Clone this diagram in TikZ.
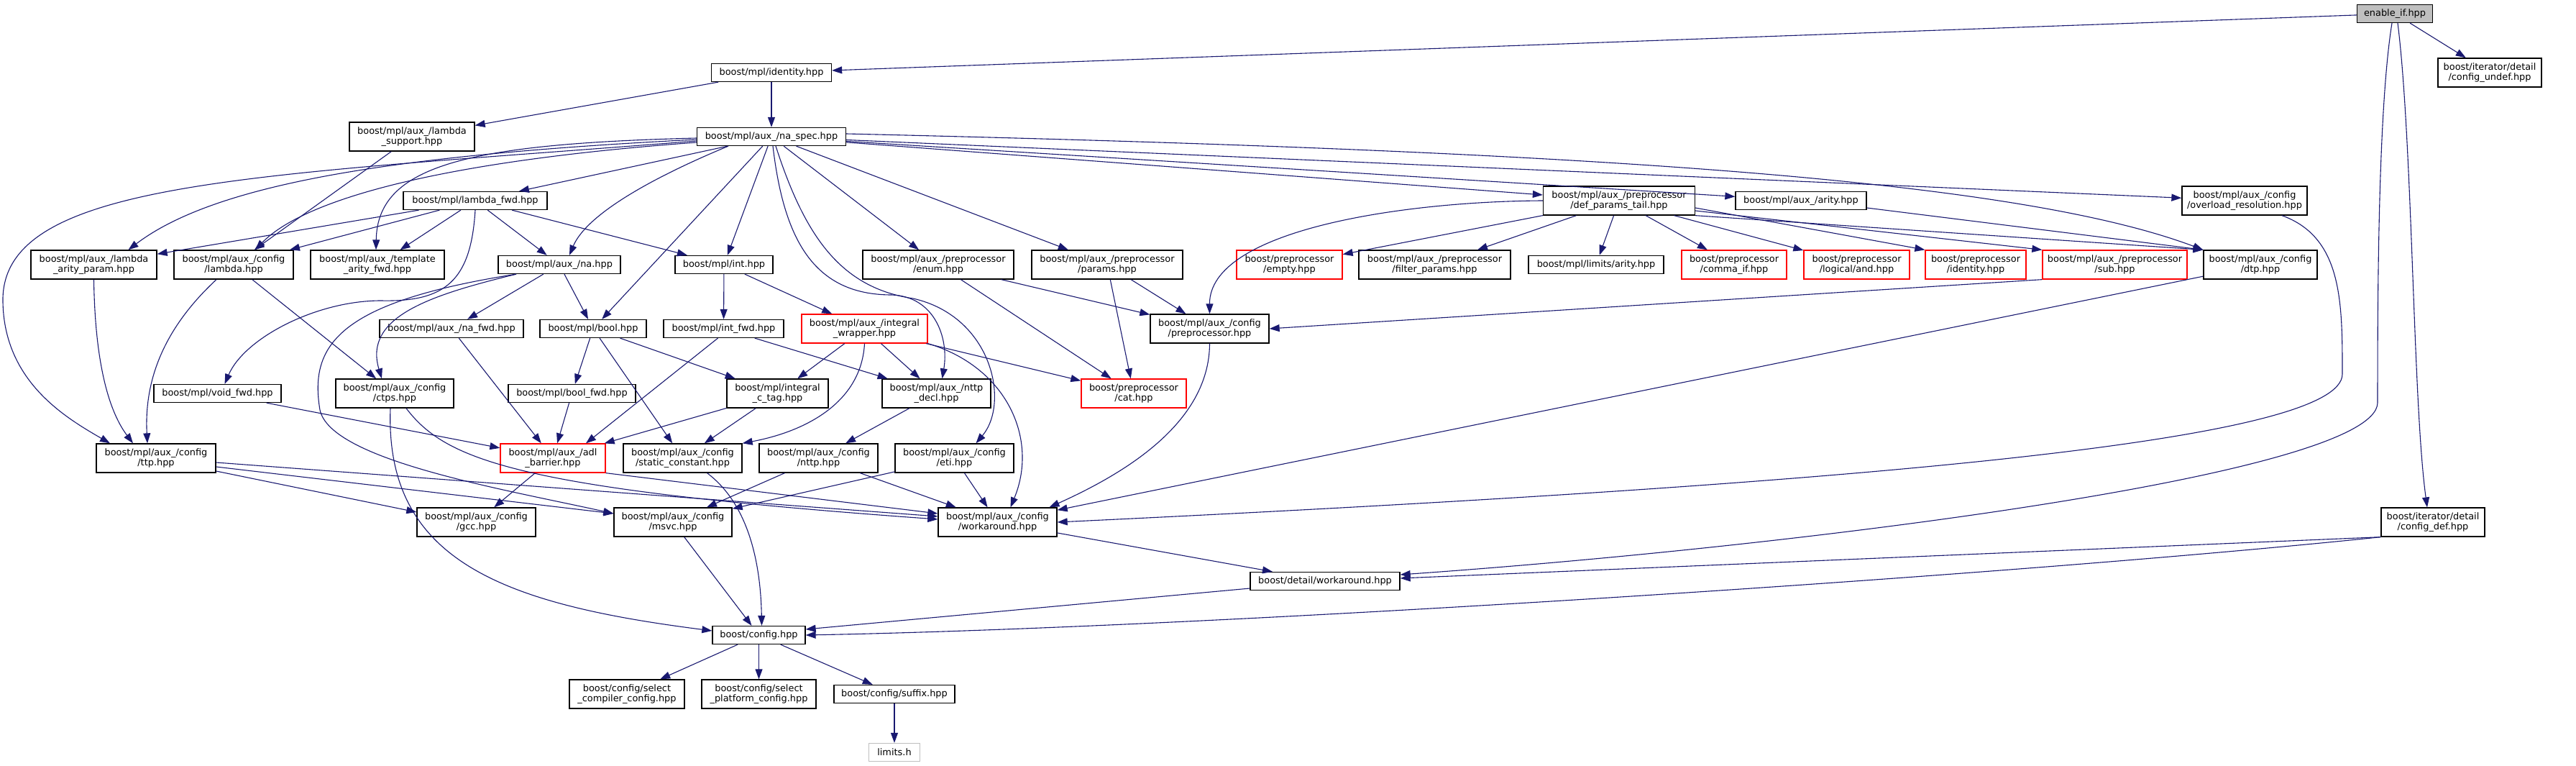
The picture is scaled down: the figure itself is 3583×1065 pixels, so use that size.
\documentclass[tikz,border=0pt]{standalone}
\usepackage{fontspec}
\usetikzlibrary{positioning,arrows.meta}
\newfontfamily\dotfont{DejaVu Sans}
\definecolor{midnight}{HTML}{191970}
\definecolor{grey75}{HTML}{BFBFBF}

\begin{document}
\begin{tikzpicture}[x=0.5pt, y=-0.5pt,
    header/.style={draw=black, fill=white, line width=0.65pt, rectangle, inner sep=0pt,
      minimum height=12.5pt, align=center, font=\dotfont\fontsize{6.45}{7.2}\selectfont},
    dbl/.style={minimum height=20pt},
    partial/.style={header, draw=red},
    syshdr/.style={header, draw=grey75},
    dep/.style={-{Triangle[length=7pt,width=5pt]}, draw=midnight, line width=0.55pt}]
    \useasboundingbox (0,0) rectangle (3583,1065);

    % Nodes
    \node (enableif) [header, fill=grey75, minimum width=52.5pt] at (3331,19) {enable\_if.hpp};

    \node (identity) [header, minimum width=83.5pt] at (1073,101) {boost/mpl/identity.hpp};
    \node (cfgundef) [header, dbl, minimum width=72pt, right of=identity, node distance=1195pt] {boost/iterator/detail\\/config\_undef.hpp};

    \node (lamsupport) [header, dbl, minimum width=87pt] at (573,190) {boost/mpl/aux\_/lambda\\\_support.hpp};
    \node (naspec) [header, minimum width=103.5pt, right of=lamsupport, node distance=250pt] {boost/mpl/aux\_/na\_spec.hpp};

    \node (lamfwd) [header, minimum width=100pt] at (661,279) {boost/mpl/lambda\_fwd.hpp};
    \node (defparams) [header, dbl, minimum width=105.5pt, right of=lamfwd, node distance=795.5pt] {boost/mpl/aux\_/preprocessor\\/def\_params\_tail.hpp};
    \node (arity) [header, minimum width=91pt, right of=defparams, node distance=126.5pt] {boost/mpl/aux\_/arity.hpp};
    \node (overload) [header, dbl, minimum width=87pt, right of=arity, node distance=308.5pt] {boost/mpl/aux\_/config\\/overload\_resolution.hpp};

    \node (lamarity) [header, dbl, minimum width=87.5pt] at (130.5,368) {boost/mpl/aux\_/lambda\\\_arity\_param.hpp};
    \node (cfglambda) [header, dbl, minimum width=83pt, right of=lamarity, node distance=97.25pt] {boost/mpl/aux\_/config\\/lambda.hpp};
    \node (tplarity) [header, dbl, minimum width=93pt, right of=cfglambda, node distance=100pt] {boost/mpl/aux\_/template\\\_arity\_fwd.hpp};
    \node (na) [header, minimum width=85pt, right of=tplarity, node distance=126.5pt] {boost/mpl/aux\_/na.hpp};
    \node (int) [header, minimum width=68pt, right of=na, node distance=114.5pt] {boost/mpl/int.hpp};
    \node (ppenum) [header, dbl, minimum width=105pt, right of=int, node distance=149pt] {boost/mpl/aux\_/preprocessor\\/enum.hpp};
    \node (ppparams) [header, dbl, minimum width=105pt, right of=ppenum, node distance=117.5pt] {boost/mpl/aux\_/preprocessor\\/params.hpp};
    \node (empty) [partial, dbl, minimum width=73.5pt, right of=ppparams, node distance=126.75pt] {boost/preprocessor\\/empty.hpp};
    \node (filter) [header, dbl, minimum width=105.5pt, right of=empty, node distance=101pt] {boost/mpl/aux\_/preprocessor\\/filter\_params.hpp};
    \node (limarity) [header, minimum width=94pt, right of=filter, node distance=112.25pt] {boost/mpl/limits/arity.hpp};
    \node (commaif) [partial, dbl, minimum width=73pt, right of=limarity, node distance=96pt] {boost/preprocessor\\/comma\_if.hpp};
    \node (logand) [partial, dbl, minimum width=73.5pt, right of=commaif, node distance=85.25pt] {boost/preprocessor\\/logical/and.hpp};
    \node (ppident) [partial, dbl, minimum width=70pt, right of=logand, node distance=82.75pt] {boost/preprocessor\\/identity.hpp};
    \node (sub) [partial, dbl, minimum width=100.5pt, right of=ppident, node distance=96.75pt] {boost/mpl/aux\_/preprocessor\\/sub.hpp};
    \node (dtp) [header, dbl, minimum width=79pt, right of=sub, node distance=101.25pt] {boost/mpl/aux\_/config\\/dtp.hpp};

    \node (nafwd) [header, minimum width=100pt] at (628,457) {boost/mpl/aux\_/na\_fwd.hpp};
    \node (bool) [header, minimum width=74pt, right of=nafwd, node distance=98.5pt] {boost/mpl/bool.hpp};
    \node (intfwd) [header, minimum width=83.5pt, right of=bool, node distance=90.75pt] {boost/mpl/int\_fwd.hpp};
    \node (intwrap) [partial, dbl, minimum width=87.5pt, right of=intfwd, node distance=98pt] {boost/mpl/aux\_/integral\\\_wrapper.hpp};
    \node (cfgpp) [header, dbl, minimum width=82.5pt, right of=intwrap, node distance=240pt] {boost/mpl/aux\_/config\\/preprocessor.hpp};

    \node (voidfwd) [header, minimum width=88.5pt] at (302.5,547) {boost/mpl/void\_fwd.hpp};
    \node (ctps) [header, dbl, minimum width=82pt, right of=voidfwd, node distance=123.25pt] {boost/mpl/aux\_/config\\/ctps.hpp};
    \node (boolfwd) [header, minimum width=88.5pt, right of=ctps, node distance=123.25pt] {boost/mpl/bool\_fwd.hpp};
    \node (ictag) [header, dbl, minimum width=70.5pt, right of=boolfwd, node distance=143pt] {boost/mpl/integral\\\_c\_tag.hpp};
    \node (nttpdecl) [header, dbl, minimum width=75.5pt, right of=ictag, node distance=110.5pt] {boost/mpl/aux\_/nttp\\\_decl.hpp};
    \node (cat) [partial, dbl, minimum width=73pt, right of=nttpdecl, node distance=137.25pt] {boost/preprocessor\\/cat.hpp};

    \node (ttp) [header, dbl, minimum width=83pt] at (217,637) {boost/mpl/aux\_/config\\/ttp.hpp};
    \node (adl) [partial, dbl, minimum width=73pt, right of=ttp, node distance=276pt] {boost/mpl/aux\_/adl\\\_barrier.hpp};
    \node (staticc) [header, dbl, minimum width=82.5pt, right of=adl, node distance=90.25pt] {boost/mpl/aux\_/config\\/static\_constant.hpp};
    \node (nttp) [header, dbl, minimum width=82.5pt, right of=staticc, node distance=94.5pt] {boost/mpl/aux\_/config\\/nttp.hpp};
    \node (eti) [header, dbl, minimum width=82.5pt, right of=nttp, node distance=94.5pt] {boost/mpl/aux\_/config\\/eti.hpp};

    \node (gcc) [header, dbl, minimum width=82.5pt] at (662.5,726) {boost/mpl/aux\_/config\\/gcc.hpp};
    \node (msvc) [header, dbl, minimum width=82pt, right of=gcc, node distance=136.75pt] {boost/mpl/aux\_/config\\/msvc.hpp};
    \node (workaround) [header, dbl, minimum width=82.5pt, right of=msvc, node distance=225.75pt] {boost/mpl/aux\_/config\\/workaround.hpp};
    \node (cfgdef) [header, dbl, minimum width=72pt, right of=workaround, node distance=998.25pt] {boost/iterator/detail\\/config\_def.hpp};

    \node (dworkaround) [header, minimum width=104pt] at (1843,808) {boost/detail/workaround.hpp};
    \node (config) [header, minimum width=64.5pt] at (1055.5,883) {boost/config.hpp};

    \node (selplat) [header, dbl, minimum width=79.5pt, below of=config, node distance=41pt] {boost/config/select\\\_platform\_config.hpp};
    \node (selcomp) [header, dbl, minimum width=80pt, left of=selplat, node distance=91.75pt] {boost/config/select\\\_compiler\_config.hpp};
    \node (suffix) [header, minimum width=84pt, right of=selplat, node distance=94.25pt] {boost/config/suffix.hpp};
    \node (limits) [syshdr, minimum width=35.5pt, below of=suffix, node distance=40.5pt] {limits.h};

    % Edges
    \draw[dep] (enableif) -- (identity);
    \draw[dep] (enableif) -- (cfgundef);
    \draw[dep] ([xshift=2pt]enableif.south) .. controls (3356,200) and (3356,560) .. ([xshift=-4pt]cfgdef.north);
    \draw[dep] ([xshift=-2pt]enableif.south) .. controls (3308,150) and (3307,400) .. (3307,560) .. controls (3305,660) and (2500,760) .. ([yshift=4.5pt]dworkaround.east);

    \draw[dep] (identity) -- (lamsupport);
    \draw[dep] (identity) -- (naspec);
    \draw[dep] (lamsupport) -- (cfglambda);

    \draw[dep] ([yshift=-1pt]naspec.west) .. controls (650,200) and (525,230) .. ([xshift=-1pt]tplarity.north);
    \draw[dep] ([yshift=-2pt]naspec.west) .. controls (550,215) and (300,255) .. ([xshift=24pt]lamarity.north);
    \draw[dep] ([yshift=-4pt]naspec.west) .. controls (600,225) and (420,280) .. ([xshift=15pt]cfglambda.north);
    \draw[dep] ([yshift=-3pt]naspec.west) .. controls (350,245) and (0,250) .. (4,420) .. controls (6,530) and (90,580) .. ([xshift=-32pt]ttp.north);
    \draw[dep] (naspec) -- (lamfwd);
    \draw[dep] ([xshift=-30pt]naspec.south) .. controls (900,250) and (815,300) .. ([xshift=7pt]na.north);
    \draw[dep] (naspec) -- (int);
    \draw[dep] (naspec) -- (bool);
    \draw[dep] ([xshift=1pt]naspec.south) .. controls (1090,330) and (1130,410) .. (1240,410) .. controls (1300,412) and (1320,470) .. ([xshift=4pt]nttpdecl.north);
    \draw[dep] ([xshift=3pt]naspec.south) .. controls (1120,330) and (1170,400) .. (1270,415) .. controls (1380,440) and (1405,560) .. ([xshift=15pt]eti.north);
    \draw[dep] (naspec) -- (ppenum);
    \draw[dep] (naspec) -- (ppparams);
    \draw[dep] (naspec) -- (defparams);
    \draw[dep] (naspec) -- (arity);
    \draw[dep] (naspec) -- (overload);
    \draw[dep] ([yshift=2pt]naspec.east) .. controls (2200,210) and (2800,248) .. (dtp.north west);

    \draw[dep] (lamfwd) -- (lamarity);
    \draw[dep] (lamfwd) -- (cfglambda);
    \draw[dep] (lamfwd) -- (tplarity);
    \draw[dep] (lamfwd) -- (na);
    \draw[dep] (lamfwd) -- (int);
    \draw[dep] (lamfwd.south) .. controls (655,390) and (620,420) .. (530,418) .. controls (440,418) and (340,470) .. ([xshift=5pt]voidfwd.north);

    \draw[dep] (defparams) -- (empty);
    \draw[dep] (defparams) -- (filter);
    \draw[dep] (defparams) -- (limarity);
    \draw[dep] (defparams) -- (commaif);
    \draw[dep] (defparams) -- (logand);
    \draw[dep] ([yshift=-5pt]defparams.east) -- (ppident.north west);
    \draw[dep] ([yshift=-7pt]defparams.east) -- (sub.north west);
    \draw[dep] (defparams.south east) -- (dtp.north west);
    \draw[dep] (defparams.west) .. controls (1950,280) and (1682,320) .. (cfgpp.north);
    \draw[dep] ([yshift=-5pt]arity.east) -- (dtp.north west);
    \draw[dep] ([xshift=26pt]overload.south) .. controls (3258,330) and (3258,420) .. (3258,520) .. controls (3258,610) and (2650,670) .. (workaround.east);

    \draw[dep] (lamarity.south) .. controls (132,500) and (150,570) .. ([xshift=-16pt]ttp.north);
    \draw[dep] ([xshift=-12pt]cfglambda.south) .. controls (235,450) and (200,520) .. ([xshift=-6pt]ttp.north);
    \draw[dep] (cfglambda) -- (ctps);
    \draw[dep] (na) -- (nafwd);
    \draw[dep] (na) -- (bool);
    \draw[dep] ([xshift=-30pt]na.south) .. controls (600,410) and (505,440) .. ([xshift=-9pt]ctps.north);
    \draw[dep] ([xshift=-30pt]na.south) .. controls (470,420) and (430,480) .. (445,570) .. controls (460,640) and (700,680) .. ([yshift=6pt]msvc.west);
    \draw[dep] (int) -- (intfwd);
    \draw[dep] (int) -- (intwrap);
    \draw[dep] (ppenum) -- (cat);
    \draw[dep] (ppenum) -- (cfgpp);
    \draw[dep] (ppparams) -- (cat);
    \draw[dep] (ppparams) -- (cfgpp);
    \draw[dep] (sub.south west) -- (cfgpp.east);
    \draw[dep] (dtp) -- (workaround);

    \draw[dep] (nafwd) -- (adl);
    \draw[dep] (bool) -- (boolfwd);
    \draw[dep] (bool) -- (ictag);
    \draw[dep] (bool) -- (staticc);
    \draw[dep] ([xshift=-4pt]intfwd.south) -- ([xshift=23pt]adl.north);
    \draw[dep] (intfwd) -- (nttpdecl);
    \draw[dep] (intwrap) -- (ictag);
    \draw[dep] (intwrap.south) .. controls (1198,560) and (1120,600) .. (staticc.north east);
    \draw[dep] (intwrap) -- (nttpdecl);
    \draw[dep] (intwrap) -- (cat);
    \draw[dep] (intwrap.south east) .. controls (1400,510) and (1445,610) .. ([xshift=9pt]workaround.north);
    \draw[dep] (cfgpp.south) .. controls (1682,590) and (1560,660) .. ([xshift=36pt]workaround.north);

    \draw[dep] (voidfwd) -- (adl);
    \draw[dep] ([xshift=8pt]ctps.south) .. controls (620,640) and (720,680) .. ([yshift=2pt]workaround.west);
    \draw[dep] ([xshift=-3pt]ctps.south) .. controls (535,780) and (700,840) .. ([yshift=3pt]config.west);
    \draw[dep] (boolfwd) -- (adl);
    \draw[dep] (ictag) -- (adl);
    \draw[dep] (ictag) -- (staticc);
    \draw[dep] (nttpdecl) -- (nttp);

    \draw[dep] ([yshift=-3pt]ttp.east) -- ([yshift=4pt]workaround.west);
    \draw[dep] ([yshift=-6pt]ttp.east) -- ([yshift=6pt]msvc.west);
    \draw[dep] ([yshift=-9pt]ttp.east) -- ([yshift=7pt]gcc.west);
    \draw[dep] (adl) -- (gcc);
    \draw[dep] (adl.south east) -- ([yshift=6pt]workaround.west);
    \draw[dep] ([xshift=17pt]staticc.south) .. controls (1040,700) and (1058,780) .. ([xshift=2pt]config.north);
    \draw[dep] (nttp) -- (msvc);
    \draw[dep] (nttp) -- (workaround);
    \draw[dep] (eti) -- (msvc);
    \draw[dep] (eti) -- (workaround);

    \draw[dep] (msvc) -- (config);
    \draw[dep] (workaround) -- (dworkaround);
    \draw[dep] (cfgdef.south west) -- ([yshift=2pt]dworkaround.east);
    \draw[dep] (cfgdef.south west) .. controls (2800,800) and (1700,872) .. (config.east);
    \draw[dep] ([yshift=-5pt]dworkaround.west) -- ([yshift=4pt]config.east);

    \draw[dep] (config) -- (selcomp);
    \draw[dep] (config) -- (selplat);
    \draw[dep] (config) -- (suffix);
    \draw[dep] (suffix) -- (limits);
\end{tikzpicture}
\end{document}
